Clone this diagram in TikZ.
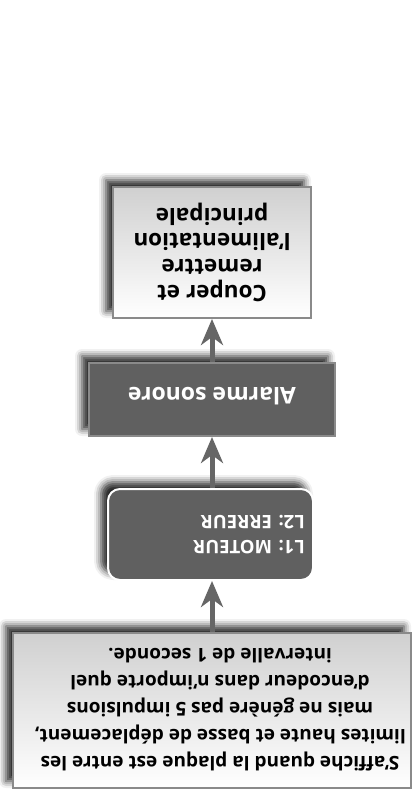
\documentclass[tikz,border=0pt]{standalone}
\usepackage{fontspec}
\setmainfont{Open Sans}
\usetikzlibrary{shadows.blur,arrows.meta}
\definecolor{darkbox}{HTML}{606060}
\definecolor{arrowgray}{HTML}{666666}
\definecolor{bordergray}{HTML}{8A8A8A}
\definecolor{lightshade}{HTML}{D0D0D0}
\tikzset{
  shad/.style={blur shadow={shadow xshift=-7pt, shadow yshift=7pt, shadow blur radius=7pt, shadow opacity=85}},
  lightbox/.style={draw=bordergray, line width=2pt, top color=lightshade, bottom color=white, shad, inner sep=0pt},
  darkrect/.style={draw=bordergray, line width=2pt, fill=darkbox, shad, inner sep=0pt},
  darkround/.style={draw=white, line width=2pt, fill=darkbox, rounded corners=12pt, shad, inner sep=0pt},
  txt/.style={rotate=180, align=center, inner sep=0pt},
  conn/.style={draw=arrowgray, line width=5pt, -{Stealth[length=26pt, width=22pt, inset=8pt]}},
}
\begin{document}
\begin{tikzpicture}[x=1pt, y=-1pt]
\useasboundingbox (0,0) rectangle (417,793);
% boxes
\node[lightbox, minimum width=398pt, minimum height=155pt] (b1) at (212,710.5) {};
\node[darkround, minimum width=205pt, minimum height=91pt] (b2) at (210.5,534.5) {};
\node[darkrect, minimum width=246pt, minimum height=73pt] (b3) at (212,399.5) {};
\node[lightbox, minimum width=198pt, minimum height=131pt] (b4) at (212,252.5) {};
% texts
\node[txt, font=\bfseries\fontsize{19}{27}\selectfont, text=black] (t1) at (220,710)
  {S'affiche quand la plaque est entre les\\limites haute et basse de déplacement,\\mais ne génère pas 5 impulsions\\d'encodeur dans n'importe quel\\intervalle de 1 seconde.};
\node[txt, align=left, anchor=west, font=\bfseries\fontsize{18.5}{25}\selectfont, text=white] (t2) at (305,535)
  {L1: MOTEUR\\L2: ERREUR};
\node[txt, font=\bfseries\fontsize{23}{26}\selectfont, text=white] (t3) at (212,396) {Alarme sonore};
\node[txt, font=\bfseries\fontsize{22.5}{25.7}\selectfont, text=black] (t4) at (212,252)
  {Couper et\\remettre\\l'alimentation\\principale};
% connectors
\draw[conn] (b1.north) -- (b1.north |- b2.south);
\draw[conn] (b1.north |- b2.north) -- (b3.south);
\draw[conn] (b3.north) -- (b4.south);
\end{tikzpicture}
\end{document}
